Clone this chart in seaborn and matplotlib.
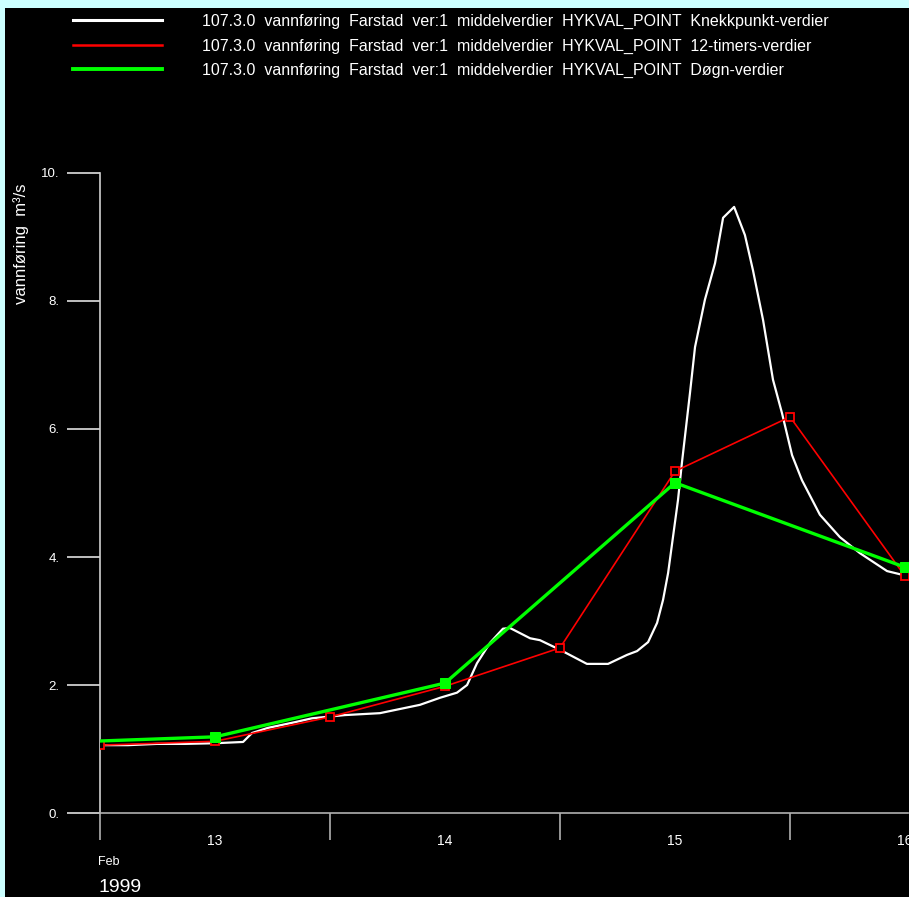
import matplotlib
matplotlib.use("Agg")
import matplotlib.pyplot as plt
from matplotlib.lines import Line2D
from matplotlib.patches import Rectangle
import seaborn as sns
import pandas as pd

# ---- data (x = days since 13 Feb 1999 00:00, y = m3/s) ----
knekk_t = [0.000, 0.122, 0.248, 0.370, 0.500, 0.622, 0.661, 0.730, 0.848, 0.922,
           1.065, 1.217, 1.391, 1.478, 1.552, 1.596, 1.639, 1.696, 1.752, 1.783,
           1.870, 1.913, 2.000, 2.117, 2.209, 2.291, 2.335, 2.383, 2.422, 2.448,
           2.470, 2.513, 2.530, 2.565, 2.587, 2.630, 2.674, 2.709, 2.757, 2.804,
           2.839, 2.883, 2.926, 2.965, 3.009, 3.052, 3.130, 3.217, 3.304, 3.422,
           3.513]
knekk_v = [1.06, 1.06, 1.08, 1.08, 1.09, 1.11, 1.25, 1.33, 1.42, 1.48,
           1.53, 1.56, 1.69, 1.80, 1.88, 2.00, 2.34, 2.66, 2.88, 2.89,
           2.73, 2.70, 2.55, 2.33, 2.33, 2.47, 2.53, 2.67, 2.97, 3.33,
           3.75, 4.89, 5.47, 6.56, 7.28, 8.02, 8.59, 9.30, 9.47, 9.03,
           8.48, 7.70, 6.77, 6.25, 5.59, 5.20, 4.66, 4.31, 4.06, 3.78,
           3.70]
timer12_t = [0.0, 0.5, 1.0, 1.5, 2.0, 2.5, 3.0, 3.5]
timer12_v = [1.06, 1.12, 1.50, 1.98, 2.58, 5.34, 6.19, 3.70]
dogn_t = [0.0, 0.5, 1.5, 2.5, 3.5]
dogn_v = [1.125, 1.19, 2.03, 5.16, 3.84]

series_labels = [
    "107.3.0  vannføring  Farstad  ver:1  middelverdier  HYKVAL_POINT  Knekkpunkt-verdier",
    "107.3.0  vannføring  Farstad  ver:1  middelverdier  HYKVAL_POINT  12-timers-verdier",
    "107.3.0  vannføring  Farstad  ver:1  middelverdier  HYKVAL_POINT  Døgn-verdier",
]
y_ticks = [0, 2, 4, 6, 8, 10]
y_ticklabels = ["0.", "2.", "4.", "6.", "8.", "10."]
day_pos = [0.5, 1.5, 2.5, 3.5]
day_labels = ["13", "14", "15", "16"]
ylabel = "vannføring  m³/s"

W, H = 909, 897
plt.rcParams["font.family"] = ["Liberation Sans", "DejaVu Sans"]

fig = plt.figure(figsize=(W / 100, H / 100), dpi=100)
fig.patch.set_facecolor("#ccffff")
fig.add_artist(Rectangle((5 / W, 0), 1, 1 - 8 / H, transform=fig.transFigure,
                         facecolor="black", edgecolor="none", zorder=0))

ax = fig.add_axes([100 / W, 1 - 813 / H, 808 / W, (813 - 173) / H])
ax.set_facecolor("black")

df_k = pd.DataFrame({"t": knekk_t, "v": knekk_v})
df_r = pd.DataFrame({"t": timer12_t, "v": timer12_v})
df_g = pd.DataFrame({"t": dogn_t, "v": dogn_v})

sns.lineplot(data=df_k, x="t", y="v", ax=ax, color="white", linewidth=1.6,
             estimator=None, sort=False, zorder=2)
sns.lineplot(data=df_r, x="t", y="v", ax=ax, color="#ff0000", linewidth=1.2,
             estimator=None, sort=False, marker="s", markersize=6,
             markerfacecolor="black", markeredgecolor="#ff0000",
             markeredgewidth=1.3, zorder=3)
sns.lineplot(data=df_g, x="t", y="v", ax=ax, color="#00ff00", linewidth=2.4,
             estimator=None, sort=False, marker="s", markersize=7,
             markerfacecolor="#00ff00", markeredgecolor="#00ff00",
             markevery=list(range(1, len(dogn_t))), zorder=4)

ax.set_xlim(0, 3.513)
ax.set_ylim(0, 10)
ax.set_xlabel("")
ax.set_ylabel("")

for s in ["top", "right"]:
    ax.spines[s].set_visible(False)
ax.spines["left"].set_color("#d0d0d0")
ax.spines["bottom"].set_color("#b0b0b0")
ax.spines["left"].set_linewidth(1.2)
ax.spines["bottom"].set_linewidth(1.2)

ax.set_yticks(y_ticks)
ax.set_yticklabels(y_ticklabels)
ax.tick_params(axis="y", direction="out", length=24, width=1.2, color="#e0e0e0",
               labelcolor="white", labelsize=9.5, pad=5)

ax.set_xticks([0, 1, 2, 3])
ax.set_xticklabels([])
ax.set_xticks(day_pos, minor=True)
ax.set_xticklabels(day_labels, minor=True)
ax.tick_params(axis="x", which="major", direction="out", length=19.5, width=1.2,
               color="#b0b0b0")
ax.tick_params(axis="x", which="minor", length=0, labelcolor="white",
               labelsize=10, pad=15)

fig.text(98 / W, 1 - 862 / H, "Feb", color="white", fontsize=9,
         ha="left", va="center")
fig.text(99 / W, 1 - 887 / H, "1999", color="white", fontsize=14,
         ha="left", va="center")
fig.text(21 / W, 1 - 244 / H, ylabel, color="white", fontsize=12,
         rotation=90, ha="center", va="center")

handles = [Line2D([], [], color="white", linewidth=2.2),
           Line2D([], [], color="#ff0000", linewidth=1.8),
           Line2D([], [], color="#00ff00", linewidth=2.8)]
fig.legend(handles, series_labels, loc="upper left",
           bbox_to_anchor=(73 / W, 1 - 14 / H), frameon=False,
           fontsize=11.5, labelcolor="white", handlelength=5.6,
           handletextpad=2.5, labelspacing=0.58, borderpad=0,
           borderaxespad=0)

fig.savefig("out.png", dpi=100, facecolor=fig.get_facecolor())
